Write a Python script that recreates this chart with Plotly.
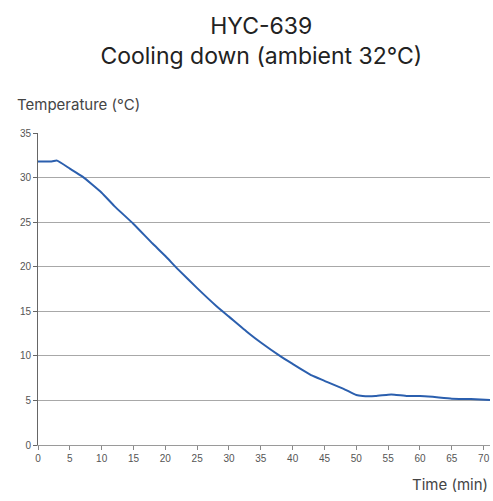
import plotly.graph_objects as go

# Cooling curve samples: time in minutes, temperature in °C
time_min = [0, 1, 2, 3, 5, 7, 10, 12, 15, 18, 20, 22, 25, 28, 30, 33, 35, 38,
            40, 43, 45, 48, 50, 51, 53, 55, 56, 58, 60, 62, 65, 68, 71]
temp_c = [31.8, 31.8, 31.8, 31.9, 31.0, 30.1, 28.3, 26.8, 24.8, 22.6, 21.2,
          19.7, 17.6, 15.6, 14.4, 12.6, 11.5, 10.0, 9.1, 7.8, 7.2, 6.3, 5.6,
          5.5, 5.5, 5.65, 5.65, 5.5, 5.5, 5.4, 5.2, 5.15, 5.05]

x_ticks = list(range(0, 71, 5))
y_ticks = list(range(0, 36, 5))

title_text = "HYC-639<br>Cooling down (ambient 32°C)"
y_title = "Temperature (°C)"
x_title = "Time (min)"

fig = go.Figure()
fig.add_trace(go.Scatter(
    x=time_min, y=temp_c, mode="lines",
    line=dict(color="#2b5fae", width=2, shape="spline", smoothing=0.4),
    showlegend=False, hoverinfo="x+y",
))

tick_font = dict(family="Liberation Sans, Arial, sans-serif", size=10, color="#555555")

fig.update_layout(
    width=493, height=501,
    margin=dict(l=38, r=3, t=133, b=56),
    paper_bgcolor="white", plot_bgcolor="white",
    title=dict(text=title_text, x=0.53, xanchor="center", y=0.932, yanchor="top",
               font=dict(family="Inter, sans-serif", size=23, color="#222222")),
    xaxis=dict(range=[0, 71], tickvals=x_ticks, ticktext=[str(v) for v in x_ticks],
               showgrid=False, zeroline=False, showline=True, linecolor="#9a9a9a",
               linewidth=1, ticks="outside", ticklen=4, tickcolor="#888888",
               tickfont=tick_font),
    yaxis=dict(range=[0, 35], tickvals=y_ticks, ticktext=[str(v) for v in y_ticks],
               showgrid=True, gridcolor="#a8a8a8", gridwidth=1, zeroline=False,
               showline=True, linecolor="#666666", linewidth=1,
               ticks="outside", ticklen=4, tickcolor="#666666", tickfont=tick_font),
    annotations=[
        dict(text=y_title, xref="paper", yref="paper", x=-0.05, y=1.055,
             xanchor="left", yanchor="bottom", showarrow=False,
             font=dict(family="Inter, sans-serif", size=15, color="#444444")),
        dict(text=x_title, xref="paper", yref="paper", x=1.0, y=-0.09,
             xanchor="right", yanchor="top", showarrow=False,
             font=dict(family="Inter, sans-serif", size=15, color="#444444")),
    ],
)

fig.write_html("out.html")
